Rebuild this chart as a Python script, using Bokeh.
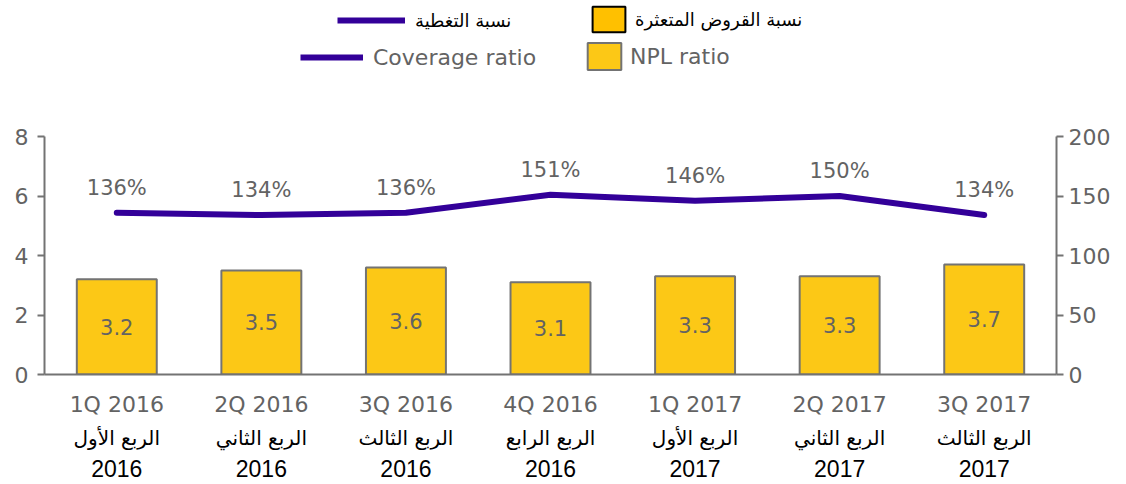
from bokeh.plotting import figure
from bokeh.layouts import column
from bokeh.models import (ColumnDataSource, FactorRange, Range1d, LinearAxis,
                          CategoricalAxis, FixedTicker, Legend, LegendItem,
                          CustomJSTickFormatter)
from bokeh.core.properties import value
from bokeh.embed import file_html
from bokeh.resources import INLINE

# ---- data ----
quarters = ["1Q 2016", "2Q 2016", "3Q 2016", "4Q 2016", "1Q 2017", "2Q 2017", "3Q 2017"]
arabic_quarters = ["الربع الأول", "الربع الثاني", "الربع الثالث", "الربع الرابع",
                   "الربع الأول", "الربع الثاني", "الربع الثالث"]
years = ["2016", "2016", "2016", "2016", "2017", "2017", "2017"]
npl_ratio = [3.2, 3.5, 3.6, 3.1, 3.3, 3.3, 3.7]
coverage_ratio = [136, 134, 136, 151, 146, 150, 134]
left_ticks = [0, 2, 4, 6, 8]
right_ticks = [0, 50, 100, 150, 200]
legend_npl_ar = "نسبة القروض المتعثرة"
legend_cov_ar = "نسبة التغطية"
legend_npl_en = "NPL ratio"
legend_cov_en = "Coverage ratio"

GRAY = "#636363"
AXIS_GRAY = "#737373"
LINE_COLOR = "#330099"
BAR_COLOR = "#FCC816"
FONT = "DejaVu Sans"

src = ColumnDataSource(dict(
    q=quarters,
    npl=npl_ratio,
    npl_mid=[v / 2 for v in npl_ratio],
    npl_txt=[f"{v:.1f}" for v in npl_ratio],
    cov=coverage_ratio,
    cov_txt=[f"{v}%" for v in coverage_ratio],
))

# ================= main chart =================
p = figure(width=1126, height=384,
           x_range=FactorRange(factors=quarters),
           y_range=Range1d(0, 8),
           output_backend="svg", toolbar_location=None,
           min_border_left=44, min_border_right=70,
           min_border_top=36, min_border_bottom=110)
p.extra_y_ranges = {"cov": Range1d(0, 200)}
p.outline_line_color = None
p.xgrid.visible = False
p.ygrid.visible = False

p.vbar(x="q", top="npl", width=0.553, source=src,
       fill_color=BAR_COLOR, line_color=AXIS_GRAY, line_width=2)
p.text(x="q", y="npl_mid", text="npl_txt", source=src,
       text_align="center", text_baseline="middle",
       text_font=value(FONT), text_font_size="21px", text_color=GRAY)

p.line(x="q", y="cov", source=src, y_range_name="cov",
       line_width=6, line_color=LINE_COLOR, line_cap="round", line_join="round")
p.text(x="q", y="cov", text="cov_txt", source=src, y_range_name="cov",
       y_offset=-25, text_align="center", text_baseline="middle",
       text_font=value(FONT), text_font_size="21px", text_color=GRAY)

# ---- axes ----
yl = p.yaxis[0]
yl.ticker = FixedTicker(ticks=left_ticks)
yr = LinearAxis(y_range_name="cov", ticker=FixedTicker(ticks=right_ticks))
p.add_layout(yr, "right")
for ax in (yl, yr):
    ax.axis_line_color = AXIS_GRAY
    ax.axis_line_width = 2
    ax.major_tick_line_color = AXIS_GRAY
    ax.major_tick_line_width = 2
    ax.major_tick_out = 7
    ax.major_tick_in = 0
    ax.minor_tick_line_color = None
    ax.major_label_text_font = FONT
    ax.major_label_text_font_size = "22px"
    ax.major_label_text_color = GRAY
yl.major_label_standoff = 9
yr.major_label_standoff = 5

xa = p.xaxis[0]
xa.axis_line_color = AXIS_GRAY
xa.axis_line_width = 2
xa.major_tick_line_color = None
xa.major_tick_out = 0
xa.major_tick_in = 0
xa.major_label_standoff = 17
xa.major_label_text_font = FONT
xa.major_label_text_font_size = "22px"
xa.major_label_text_color = GRAY

js_code = "const i = labels_src.indexOf(tick); return i >= 0 ? labels_dst[i] : tick;"
xa2 = CategoricalAxis(formatter=CustomJSTickFormatter(
    args=dict(labels_src=quarters, labels_dst=arabic_quarters), code=js_code))
xa3 = CategoricalAxis(formatter=CustomJSTickFormatter(
    args=dict(labels_src=quarters, labels_dst=years), code=js_code))
for ax, fnt, size, stand in ((xa2, "DejaVu Sans", "20px", 6), (xa3, "Liberation Sans", "23px", 7)):
    ax.axis_line_color = None
    ax.major_tick_line_color = None
    ax.minor_tick_line_color = None
    ax.major_tick_out = 0
    ax.major_tick_in = 0
    ax.major_label_standoff = stand
    ax.major_label_text_font = fnt
    ax.major_label_text_font_size = size
    ax.major_label_text_color = "black"
    p.add_layout(ax, "below")

# ================= legend strip =================
lf = figure(width=1126, height=100, x_range=Range1d(0, 1), y_range=Range1d(0, 1),
            output_backend="svg", toolbar_location=None, min_border=0)
lf.axis.visible = False
lf.xgrid.visible = False
lf.ygrid.visible = False
lf.outline_line_color = None

# legend-only renderers, placed outside the visible range
off = ColumnDataSource(dict(x=[5, 6], y=[5, 5]))
leg_line = lf.line(x="x", y="y", source=off, line_width=6,
                   line_color=LINE_COLOR)
leg_bar_ar = lf.rect(x="x", y="y", width=0.1, height=0.1, source=off,
                     fill_color="#FFC000", line_color="black", line_width=2)
leg_bar_en = lf.rect(x="x", y="y", width=0.1, height=0.1, source=off,
                     fill_color=BAR_COLOR, line_color=AXIS_GRAY, line_width=2)


def make_legend(label, rend, loc, gw, gh, standoff, color, size):
    lg = Legend(items=[LegendItem(label=label, renderers=[rend])],
                location=loc, orientation="horizontal",
                glyph_width=gw, glyph_height=gh, label_height=gh,
                label_standoff=standoff, padding=0, margin=0, spacing=0,
                border_line_color=None, background_fill_alpha=0,
                label_text_font=FONT, label_text_font_size=size,
                label_text_color=color)
    lf.add_layout(lg, "center")


# frame of the legend strip is aligned with the chart frame (left edge at 44px)
make_legend(legend_cov_ar, leg_line, (293, 65), 68, 30, 10, "black", "18px")
make_legend(legend_npl_ar, leg_bar_ar, (544, 65), 41, 32, 6, "black", "18px")
make_legend(legend_cov_en, leg_line, (256, 28), 63, 30, 10, GRAY, "22px")
make_legend(legend_npl_en, leg_bar_en, (539, 27), 42, 34, 5, GRAY, "22px")

layout = column(lf, p, spacing=0)
open("out.html", "w").write(file_html(layout, INLINE))
